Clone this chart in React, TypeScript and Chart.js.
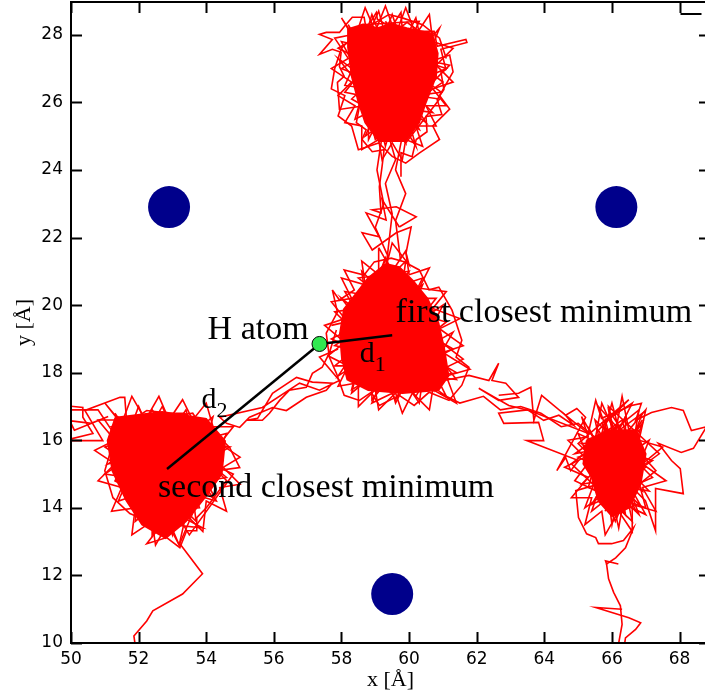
import React, { useEffect, useRef } from 'react';
import { Chart, registerables } from 'chart.js';

Chart.register(...registerables);

type P = [number, number];

// axis ranges and tick labels (Å)
const xMin = 50;
const xMax = 68.9;
const yMin = 10;
const yMax = 28.97;
const xTicks = [50, 52, 54, 56, 58, 60, 62, 64, 66, 68];
const yTicks = [10, 12, 14, 16, 18, 20, 22, 24, 26, 28];

// lattice sites (blue) and the H atom (green)
const sites: P[] = [[52.9, 22.9], [66.13, 22.9], [59.5, 11.45]];
const hAtom: P[] = [[57.35, 18.85]];
const d1Line: P[] = [[57.35, 18.85], [59.5, 19.11]];
const d2Line: P[] = [[57.35, 18.85], [52.84, 15.15]];

// text annotations
const labelTexts = ['H atom', 'first closest minimum', 'second closest minimum'];
const labelX = [54.04, 59.6, 52.57];
const labelY = [18.99, 19.5, 14.32];
const dSubs = ['1', '2'];
const dLabelX = [58.54, 53.86];
const dLabelY = [18.31, 16.95];

// ---- trajectory: top minimum ----
const topCore: P[] = [[58.19, 28.17], [58.64, 28.31], [59.07, 28.2], [59.47, 28.33], [59.93, 28.2], [60.68, 28.04], [60.85, 27.45], [60.8, 26.77], [60.5, 26.0], [60.3, 25.4], [59.9, 24.85], [59.1, 24.85], [58.7, 25.4], [58.5, 26.0], [58.3, 26.77], [58.19, 27.63], [58.19, 28.17]];
const topRim: P[] = [[58.2, 28.3], [58.6, 27.6], [58.9, 28.6], [59.2, 27.8], [59.5, 28.6], [59.8, 27.7], [60.2, 28.5], [60.4, 27.6], [60.9, 28.2], [60.5, 27.2], [61.1, 27.0], [60.4, 26.7], [60.95, 26.3], [60.2, 26.2], [60.7, 25.7], [60.0, 25.8], [60.3, 25.2], [59.8, 25.5], [59.9, 24.8], [59.5, 25.4], [59.3, 24.7], [59.1, 25.5], [58.8, 24.9], [58.8, 25.7], [58.4, 25.5], [58.6, 26.2], [58.1, 26.3], [58.5, 26.8], [58.0, 27.0], [58.5, 27.3], [57.9, 27.6], [58.4, 27.9], [58.2, 28.3]];
const topRim2: P[] = [[58.0, 28.5], [58.4, 27.9], [58.7, 28.8], [59.0, 28.1], [59.3, 28.85], [59.6, 28.0], [59.9, 28.8], [60.2, 28.0], [60.6, 28.6], [60.7, 27.8], [61.3, 27.6], [60.8, 27.1], [61.3, 26.6], [60.7, 26.4], [61.1, 25.9], [60.5, 25.9], [60.8, 25.3], [60.2, 25.3], [60.4, 24.7], [59.9, 24.9], [59.8, 24.3], [59.5, 24.8], [59.2, 24.3], [59.1, 24.9], [58.6, 24.6], [58.6, 25.3], [58.1, 25.4], [58.4, 25.9], [57.9, 26.2], [58.3, 26.6], [57.7, 27.0], [58.2, 27.3], [57.8, 27.9], [58.3, 28.0], [58.0, 28.5]];
const topFringe: P[] = [[59.76, 23.8], [59.76, 24.51], [60.09, 24.39], [60.21, 24.9], [60.53, 25.13], [60.5, 25.58], [60.97, 25.64], [60.83, 26.08], [61.03, 26.38], [60.94, 26.91], [61.09, 26.97], [60.94, 27.57], [61.71, 27.77], [61.68, 27.86], [60.83, 27.66], [60.74, 28.1], [60.3, 28.1], [59.94, 28.37], [59.79, 28.25], [59.76, 28.66], [59.47, 28.22], [59.06, 28.46], [59.03, 28.66], [58.73, 28.16], [58.67, 28.52], [58.32, 28.52], [58.14, 28.31], [57.94, 28.07], [57.55, 28.07], [57.35, 28.01], [57.73, 27.86], [57.35, 27.42], [57.73, 27.57], [57.99, 27.48], [57.94, 27.06], [58.08, 26.77], [57.88, 26.59], [57.94, 25.79], [58.53, 25.88], [58.44, 25.4], [58.73, 25.19], [58.61, 24.9], [58.91, 24.54], [59.26, 24.6], [59.2, 24.1], [59.12, 23.5], [59.17, 22.73], [58.91, 22.82], [59.62, 22.91], [60.21, 22.61], [59.71, 22.31]];
const topLoop: P[] = [[60.6, 27.2], [61.2, 27.4], [61.3, 26.9], [60.9, 26.2], [61.2, 25.8], [60.7, 25.3], [60.9, 24.9], [60.3, 24.5], [59.9, 24.2], [59.5, 24.4], [59.1, 24.8], [58.5, 24.6], [58.3, 25.3], [57.9, 25.6], [58.1, 26.2], [57.7, 26.4], [57.8, 27.0], [58.0, 27.6], [58.4, 28.0], [58.9, 28.3], [59.4, 28.6], [59.8, 28.5], [60.4, 28.3], [60.9, 27.9], [61.1, 27.3]];
const topScribble: P[] = [[59.4, 26.8], [58.2, 27.9], [59.6, 26.2], [60.8, 27.6], [59.2, 25.6], [58.3, 26.1], [59.8, 27.5], [61.0, 26.6], [58.7, 25.0], [60.3, 28.4], [58.6, 28.3], [60.5, 25.4], [57.9, 27.3], [59.9, 24.8], [60.9, 26.1], [58.1, 26.5], [59.1, 28.7], [60.2, 24.7], [58.4, 27.7], [60.6, 27.9], [59.5, 25.0], [58.0, 27.8], [61.2, 27.1], [59.0, 24.9], [58.5, 26.9], [60.7, 26.4], [59.3, 28.4]];
const topToCenter: P[] = [[59.71, 22.31], [59.2, 23.12], [59.32, 22.52], [58.73, 22.73], [59.12, 22.02], [58.61, 22.14], [58.91, 21.63], [59.62, 22.14], [60.06, 22.31], [59.91, 21.54], [60.0, 21.19], [59.5, 21.84], [59.32, 21.13], [59.5, 22.7], [59.3, 23.6], [59.6, 24.3], [59.4, 25.0]];
const topStrandA: P[] = [[59.2, 25.0], [59.05, 24.0], [59.25, 23.0], [59.0, 22.3], [59.35, 21.5]];
const topStrandB: P[] = [[59.8, 25.0], [59.6, 24.0], [59.9, 23.3], [59.6, 22.5], [59.75, 21.3]];

// ---- trajectory: central (first closest) minimum ----
const centerCore: P[] = [[59.31, 21.22], [58.79, 20.81], [58.39, 20.29], [58.07, 19.88], [57.95, 19.16], [58.01, 18.42], [58.17, 17.79], [58.79, 17.48], [59.8, 17.39], [60.87, 17.48], [61.17, 17.91], [61.04, 18.72], [60.87, 19.48], [60.55, 20.19], [60.12, 20.72], [59.71, 21.13], [59.31, 21.22]];
const centerRim: P[] = [[59.3, 21.4], [59.4, 20.8], [59.9, 21.3], [59.8, 20.6], [60.4, 20.8], [60.1, 20.2], [60.8, 20.2], [60.4, 19.7], [61.1, 19.5], [60.6, 19.1], [61.3, 18.7], [60.7, 18.4], [61.4, 18.0], [60.8, 17.9], [61.1, 17.3], [60.4, 17.8], [60.3, 17.1], [59.9, 17.7], [59.6, 17.1], [59.4, 17.8], [58.9, 17.2], [58.9, 17.9], [58.3, 17.4], [58.5, 18.2], [57.8, 18.2], [58.4, 18.7], [57.7, 19.0], [58.3, 19.3], [57.8, 19.8], [58.4, 19.9], [58.1, 20.4], [58.7, 20.3], [58.6, 21.0], [59.0, 20.6], [59.3, 21.4]];
const centerRim2: P[] = [[59.1, 21.7], [59.5, 21.0], [59.9, 21.6], [60.0, 20.9], [60.6, 21.1], [60.3, 20.5], [61.1, 20.4], [60.7, 19.9], [61.5, 19.6], [60.9, 19.3], [61.6, 18.8], [61.0, 18.6], [61.8, 18.1], [61.1, 17.9], [61.4, 17.1], [60.7, 17.5], [60.6, 16.9], [60.1, 17.4], [59.8, 16.8], [59.6, 17.4], [59.1, 16.9], [59.0, 17.5], [58.5, 17.0], [58.5, 17.7], [57.9, 17.6], [58.2, 18.2], [57.6, 18.5], [58.1, 18.9], [57.5, 19.4], [58.1, 19.6], [57.7, 20.1], [58.3, 20.2], [58.0, 20.8], [58.7, 20.6], [58.6, 21.3], [59.1, 20.9], [59.1, 21.7]];
const centerFringe: P[] = [[57.73, 20.45], [57.88, 19.79], [57.55, 19.17], [57.64, 18.46], [57.85, 17.98], [58.08, 17.33], [58.53, 17.18], [58.88, 17.42], [59.12, 17.03], [59.71, 17.33], [60.15, 17.03], [60.59, 17.42], [61.18, 17.18], [61.56, 17.63], [61.77, 18.16], [61.39, 18.46], [61.56, 18.96], [61.27, 19.85], [60.88, 20.53], [60.59, 20.45], [60.3, 21.04], [59.85, 21.28], [59.47, 21.39], [58.97, 21.28], [58.67, 20.89], [58.08, 21.04], [58.38, 20.45], [57.94, 20.15], [57.73, 20.45]];
const centerScribble: P[] = [[59.4, 19.1], [58.0, 20.2], [60.2, 17.3], [61.3, 19.2], [58.3, 17.5], [59.3, 21.4], [60.9, 18.1], [57.8, 18.8], [60.4, 20.6], [58.9, 17.1], [61.6, 18.4], [58.5, 20.8], [60.0, 21.0], [57.9, 17.9], [61.0, 20.0], [59.6, 17.2], [58.2, 19.6], [60.7, 17.5], [59.0, 20.9], [61.4, 17.8], [58.6, 18.1], [59.9, 19.9], [57.7, 19.4]];
const centerToRight: P[] = [[61.03, 17.77], [61.77, 17.92], [62.36, 17.77], [62.65, 18.28], [62.45, 17.77], [62.86, 17.69], [63.24, 17.27], [62.65, 17.18], [62.06, 17.54], [62.95, 17.03], [63.54, 16.88], [63.98, 16.59], [64.43, 16.74], [64.87, 16.44], [64.63, 16.74], [65.3, 16.2]];
const centerToRightB: P[] = [[60.9, 17.4], [61.5, 17.1], [62.2, 17.3], [62.7, 16.9], [63.3, 17.0], [63.9, 16.8], [64.5, 16.4], [65.0, 16.5], [65.6, 16.0]];
const centerToLeft: P[] = [[57.85, 19.26], [57.64, 18.58], [57.43, 18.16], [57.14, 17.98], [56.96, 17.57], [56.46, 17.48], [56.17, 17.18], [55.87, 16.8], [55.66, 16.59], [55.19, 16.59], [55.52, 16.65], [55.96, 17.39], [56.67, 17.86], [57.14, 17.72], [57.73, 17.69], [57.55, 17.48], [56.96, 17.27], [56.37, 16.88], [55.96, 16.97], [55.28, 16.68], [54.99, 16.38], [54.6, 16.5], [54.4, 16.68], [55.66, 16.97], [56.76, 17.69], [57.35, 17.48], [57.94, 17.77], [57.35, 18.46], [57.9, 18.7]];

// ---- trajectory: left (second closest) minimum ----
const leftCore: P[] = [[51.31, 16.67], [52.7, 16.84], [54.0, 16.64], [54.56, 15.98], [54.46, 15.0], [54.0, 14.35], [53.4, 13.6], [52.8, 13.1], [52.1, 13.5], [51.63, 14.22], [51.22, 15.1], [51.08, 15.99], [51.31, 16.67]];
const leftRim: P[] = [[51.3, 16.8], [51.7, 16.2], [52.0, 17.0], [52.3, 16.3], [52.7, 17.0], [53.0, 16.3], [53.4, 16.9], [53.6, 16.2], [54.2, 16.7], [54.0, 15.9], [54.7, 15.8], [54.0, 15.4], [54.6, 14.9], [54.0, 14.8], [54.3, 14.2], [53.6, 14.4], [53.7, 13.6], [53.2, 14.1], [53.0, 13.2], [52.8, 13.9], [52.4, 13.2], [52.4, 14.0], [51.9, 13.6], [52.0, 14.4], [51.4, 14.2], [51.7, 14.9], [51.0, 15.0], [51.6, 15.4], [51.0, 15.8], [51.6, 16.0], [51.3, 16.8]];
const leftRim2: P[] = [[51.0, 17.1], [51.5, 16.5], [51.8, 17.3], [52.2, 16.6], [52.6, 17.3], [52.9, 16.6], [53.3, 17.2], [53.6, 16.6], [54.0, 17.1], [54.2, 16.4], [54.8, 16.4], [54.4, 15.9], [55.0, 15.5], [54.5, 15.2], [55.0, 14.7], [54.4, 14.6], [54.6, 13.9], [54.0, 14.2], [53.9, 13.3], [53.4, 13.8], [53.2, 12.9], [52.9, 13.6], [52.5, 12.9], [52.4, 13.6], [51.8, 13.2], [51.9, 14.0], [51.2, 13.9], [51.5, 14.6], [50.8, 14.8], [51.3, 15.3], [50.7, 15.7], [51.3, 16.0], [50.8, 16.6], [51.4, 16.6], [51.0, 17.1]];
const leftFringe: P[] = [[49.8, 17.03], [50.35, 16.97], [50.35, 16.68], [50.65, 16.2], [49.8, 15.99], [50.94, 15.99], [50.41, 16.88], [51.45, 17.27], [51.59, 17.27], [51.65, 16.5], [52.24, 16.88], [52.92, 16.8], [53.36, 16.8], [53.72, 16.5], [54.19, 16.29], [54.69, 15.79], [54.99, 15.19], [54.31, 15.1], [54.6, 14.81], [54.01, 14.01], [53.72, 13.71], [53.72, 13.32], [53.42, 13.32], [53.22, 12.82], [52.83, 13.12], [52.24, 12.94], [52.54, 13.32], [52.04, 13.71], [51.74, 13.83], [51.24, 14.3], [51.0, 15.1], [51.15, 15.61]];
const leftEdge: P[] = [[49.8, 16.6], [50.6, 16.5], [51.1, 16.7], [50.1, 16.3], [49.8, 16.9], [50.8, 16.9], [51.2, 16.3]];
const leftScribble: P[] = [[52.8, 15.4], [51.2, 16.4], [53.6, 16.8], [54.5, 15.4], [52.1, 13.6], [53.9, 13.4], [51.3, 14.8], [52.4, 16.9], [54.2, 14.3], [51.6, 15.9], [53.2, 12.9], [54.6, 16.2], [51.1, 15.3], [52.9, 16.6], [53.8, 14.0], [51.9, 13.9], [54.3, 15.7], [52.3, 14.6], [51.4, 16.7], [53.5, 13.2], [54.8, 15.0], [52.0, 16.3], [53.0, 14.0]];
const leftTail: P[] = [[53.22, 12.94], [53.89, 12.05], [53.3, 11.45], [52.42, 10.95], [52.24, 10.65], [51.86, 10.21], [51.92, 9.8]];

// ---- trajectory: right minimum ----
const rightCore: P[] = [[65.25, 16.0], [65.9, 16.3], [66.7, 16.3], [67.0, 15.6], [66.85, 14.7], [66.5, 14.0], [66.0, 13.75], [65.6, 14.2], [65.4, 14.9], [65.15, 15.3], [65.25, 16.0]];
const rightRim: P[] = [[65.3, 16.4], [65.6, 15.8], [65.8, 16.6], [66.0, 15.9], [66.4, 16.7], [66.4, 15.9], [66.9, 16.5], [66.6, 15.6], [67.2, 15.4], [66.6, 15.0], [67.1, 14.5], [66.5, 14.6], [66.8, 13.8], [66.2, 14.4], [66.0, 13.5], [65.9, 14.3], [65.4, 13.9], [65.7, 14.8], [65.1, 14.7], [65.6, 15.2], [65.0, 15.5], [65.6, 15.7], [65.3, 16.4]];
const rightRim2: P[] = [[65.1, 16.7], [65.5, 16.0], [65.7, 17.1], [66.1, 16.2], [66.3, 17.3], [66.5, 16.3], [67.0, 16.9], [66.8, 16.0], [67.5, 15.8], [66.9, 15.3], [67.6, 14.8], [66.9, 14.6], [67.3, 13.9], [66.6, 14.1], [66.6, 13.3], [66.2, 13.9], [65.8, 13.2], [65.7, 13.9], [65.2, 13.5], [65.4, 14.3], [64.8, 14.3], [65.3, 14.9], [64.6, 15.2], [65.2, 15.5], [64.7, 16.0], [65.3, 16.1], [65.1, 16.7]];
const rightFringe: P[] = [[62.65, 17.33], [63.24, 17.39], [63.6, 17.57], [63.69, 16.59], [63.92, 17.33], [64.63, 16.74], [64.96, 16.94], [65.22, 16.68], [64.37, 15.1], [64.63, 15.49], [64.78, 15.1], [65.01, 15.4], [63.48, 15.99], [63.98, 15.99], [63.83, 16.53], [62.8, 16.5], [62.65, 16.8], [63.5, 16.9], [65.3, 16.2], [65.52, 17.18], [65.69, 16.65], [66.58, 17.03], [66.87, 17.09], [66.7, 16.59], [67.17, 16.82], [67.76, 16.97], [68.11, 16.88], [68.35, 16.29], [68.8, 16.4], [68.41, 15.76], [68.05, 15.64], [67.37, 15.91], [67.76, 15.4], [68.02, 15.16], [68.11, 14.42], [67.29, 14.57], [67.29, 13.32], [66.99, 14.21], [66.3, 14.9], [64.93, 14.51], [65.01, 13.71], [65.25, 13.23], [65.52, 13.12], [65.6, 12.94], [65.99, 12.94], [66.34, 13.03], [66.64, 13.41], [66.4, 12.82], [66.11, 12.52], [65.84, 12.34], [65.81, 12.43], [66.19, 12.34]];
const rightScribble: P[] = [[66.0, 15.2], [65.3, 16.0], [66.8, 16.3], [65.6, 14.3], [67.0, 15.2], [65.9, 16.9], [66.4, 13.8], [65.2, 15.4], [66.9, 14.5], [65.7, 16.5], [66.6, 17.1], [65.5, 14.9], [67.1, 16.0], [66.1, 13.6], [65.0, 16.2], [66.5, 15.5], [65.8, 13.9], [66.9, 16.8], [65.4, 15.7], [66.2, 14.2], [67.3, 15.1], [65.6, 17.0], [66.7, 13.9], [65.9, 15.8], [64.9, 15.6], [66.3, 16.6], [67.0, 14.0], [65.3, 14.6], [66.0, 17.1], [66.6, 14.8], [65.1, 15.9], [66.4, 16.0]];
const rightScribble2: P[] = [[65.8, 15.0], [66.9, 16.6], [65.4, 14.1], [67.2, 14.9], [65.5, 16.6], [66.2, 13.4], [66.8, 16.9], [64.8, 15.3], [66.6, 13.6], [65.9, 17.0], [67.4, 15.6], [65.2, 14.0], [66.1, 16.4], [64.9, 14.8], [67.0, 13.8], [65.6, 16.3], [66.5, 17.2], [65.0, 15.9], [66.9, 14.0]];
const rightTailA: P[] = [[65.84, 12.34], [65.9, 11.9], [66.05, 11.5], [66.25, 11.1], [66.3, 10.55], [66.2, 10.0], [66.15, 9.8]];
const rightTailB: P[] = [[66.3, 11.0], [65.52, 11.05], [66.5, 10.75], [66.85, 10.6], [66.7, 10.4], [66.4, 10.15], [66.35, 9.8]];

const cores = [topCore, centerCore, leftCore, rightCore];
const paths = [
  topRim, topRim2, topFringe, topLoop, topScribble, topToCenter, topStrandA, topStrandB,
  centerRim, centerRim2, centerFringe, centerScribble, centerToRight, centerToRightB, centerToLeft,
  leftRim, leftRim2, leftFringe, leftEdge, leftScribble, leftTail,
  rightRim, rightRim2, rightFringe, rightScribble, rightScribble2, rightTailA, rightTailB,
];

const toPts = (a: P[]) => a.map(([x, y]) => ({ x, y }));
const SERIF = '"Liberation Serif", "Times New Roman", serif';

const overlayPlugin = {
  id: 'overlay',
  afterDatasetsDraw(chart: any) {
    const { ctx, chartArea: a, scales } = chart;
    const xs = scales.x;
    const ys = scales.y;
    ctx.save();
    ctx.fillStyle = '#000';
    ctx.textBaseline = 'alphabetic';
    ctx.textAlign = 'left';
    ctx.font = `34px ${SERIF}`;
    labelTexts.forEach((t, i) => {
      ctx.fillText(t, xs.getPixelForValue(labelX[i]), ys.getPixelForValue(labelY[i]));
    });
    dSubs.forEach((s, i) => {
      const px = xs.getPixelForValue(dLabelX[i]);
      const py = ys.getPixelForValue(dLabelY[i]);
      ctx.font = `30px ${SERIF}`;
      ctx.fillText('d', px, py);
      const w = ctx.measureText('d').width;
      ctx.font = `22px ${SERIF}`;
      ctx.fillText(s, px + w, py + 9);
    });
    // frame and inward ticks
    ctx.strokeStyle = '#000';
    ctx.lineWidth = 2;
    ctx.strokeRect(a.left, a.top, a.right - a.left, a.bottom - a.top);
    const tl = 11;
    ctx.beginPath();
    xTicks.forEach((v) => {
      const px = Math.round(xs.getPixelForValue(v)) + 0.5;
      ctx.moveTo(px, a.bottom); ctx.lineTo(px, a.bottom - tl);
      ctx.moveTo(px, a.top); ctx.lineTo(px, a.top + tl);
    });
    yTicks.forEach((v) => {
      const py = Math.round(ys.getPixelForValue(v)) + 0.5;
      ctx.moveTo(a.left, py); ctx.lineTo(a.left + tl, py);
      ctx.moveTo(a.right, py); ctx.lineTo(a.right - tl, py);
    });
    ctx.stroke();
    // corner of the (cut-off) legend box
    const lx = Math.round(xs.getPixelForValue(xTicks[xTicks.length - 1])) + 0.5;
    ctx.beginPath();
    ctx.moveTo(lx, a.top + tl + 1);
    ctx.lineTo(lx + 21, a.top + tl + 1);
    ctx.stroke();
    ctx.restore();
  },
};

const zeroPad = (s: any) => {
  s.paddingTop = 0;
  s.paddingBottom = 0;
  s.paddingLeft = 0;
  s.paddingRight = 0;
};

export default function App() {
  const ref = useRef<HTMLCanvasElement>(null);
  useEffect(() => {
    const red = '#ff0000';
    const datasets: any[] = [];
    datasets.push({
      data: toPts(hAtom), pointRadius: 7.5, pointBackgroundColor: '#30e850',
      pointBorderColor: '#000', pointBorderWidth: 1, showLine: false, order: 0,
    });
    datasets.push({
      data: toPts(d1Line), showLine: true, borderColor: '#000', borderWidth: 2.5, pointRadius: 0, order: 1,
    });
    datasets.push({
      data: toPts(d2Line), showLine: true, borderColor: '#000', borderWidth: 2.5, pointRadius: 0, order: 1,
    });
    datasets.push({
      data: toPts(sites), pointRadius: 21, pointBackgroundColor: '#00008b',
      pointBorderWidth: 0, pointBorderColor: '#00008b', showLine: false, order: 2,
    });
    paths.forEach((p) => datasets.push({
      data: toPts(p), showLine: true, borderColor: red, borderWidth: 1.6, pointRadius: 0, order: 3,
    }));
    cores.forEach((p) => datasets.push({
      data: toPts(p), showLine: true, borderColor: red, backgroundColor: red, fill: 'shape',
      borderWidth: 1.6, pointRadius: 0, order: 4,
    }));

    const chart = new Chart(ref.current as HTMLCanvasElement, {
      type: 'scatter',
      data: { datasets },
      options: {
        animation: false,
        responsive: true,
        maintainAspectRatio: false,
        layout: { autoPadding: false, padding: { left: 0, top: 2, right: 2, bottom: 0 } },
        plugins: { legend: { display: false }, tooltip: { enabled: false } },
        events: [],
        scales: {
          x: {
            type: 'linear', min: xMin, max: xMax,
            afterBuildTicks: (s: any) => { s.ticks = xTicks.map((v) => ({ value: v })); },
            afterFit: (s: any) => { s.height = 54; zeroPad(s); },
            grid: { display: false, drawTicks: false },
            border: { display: false },
            ticks: {
              color: '#000', padding: 6, maxRotation: 0, autoSkip: false,
              font: { family: '"DejaVu Sans", sans-serif', size: 17 },
            },
            title: {
              display: true, text: 'x [Å]', color: '#000',
              font: { family: SERIF, size: 22 }, padding: { top: 0, bottom: 4 },
            },
          },
          y: {
            type: 'linear', min: yMin, max: yMax,
            afterBuildTicks: (s: any) => { s.ticks = yTicks.map((v) => ({ value: v })); },
            afterFit: (s: any) => { s.width = 71; zeroPad(s); },
            grid: { display: false, drawTicks: false },
            border: { display: false },
            ticks: {
              color: '#000', padding: 8, autoSkip: false,
              font: { family: '"DejaVu Sans", sans-serif', size: 17 },
            },
            title: {
              display: true, text: 'y [Å]', color: '#000',
              font: { family: SERIF, size: 22 }, padding: { top: 11, bottom: 0 },
            },
          },
        },
      },
      plugins: [overlayPlugin],
    } as any);
    return () => chart.destroy();
  }, []);

  return (
    <div style={{ position: 'fixed', left: 0, top: 0, width: 705, height: 697, overflow: 'hidden', background: '#fff' }}>
      <div style={{ position: 'relative', width: 712, height: 697 }}>
        <canvas ref={ref} />
      </div>
    </div>
  );
}
